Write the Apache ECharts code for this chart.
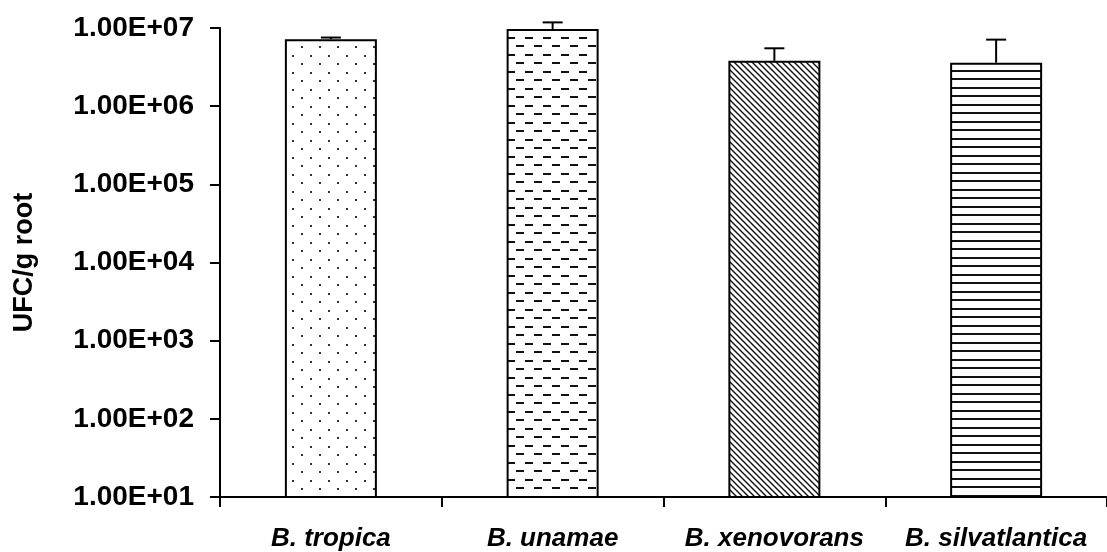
<!DOCTYPE html>
<html>
<head>
<meta charset="utf-8">
<script src="https://cdn.jsdelivr.net/npm/echarts@6/dist/echarts.min.js"></script>
<style>
html,body{margin:0;padding:0;background:#fff;}
#chart{width:1107px;height:552px;}
</style>
</head>
<body>
<div id="chart"></div>
<script>
// ---- data ----
const categories = ['B. tropica', 'B. unamae', 'B. xenovorans', 'B. silvatlantica'];
const means = [7.2e6, 9.7e6, 3.8e6, 3.6e6];
const errors = [0.35e6, 2.1e6, 1.7e6, 3.5e6];
const yTickLabels = ['1.00E+01', '1.00E+02', '1.00E+03', '1.00E+04', '1.00E+05', '1.00E+06', '1.00E+07'];
const yAxisTitle = 'UFC/g root';

// ---- patterns ----
function makeTile(w, h, draw) {
  const c = document.createElement('canvas');
  c.width = w; c.height = h;
  const ctx = c.getContext('2d');
  ctx.fillStyle = '#fff';
  ctx.fillRect(0, 0, w, h);
  draw(ctx, w, h);
  return c;
}
const dots = makeTile(18, 17, (ctx) => {
  ctx.fillStyle = '#333';
  ctx.fillRect(4, 4, 2, 2);
  ctx.fillRect(13, 12, 2, 2);
});
const dashes = makeTile(18, 17, (ctx) => {
  ctx.fillStyle = '#111';
  ctx.fillRect(3, 3, 8, 2);
  ctx.fillRect(12, 11, 6, 2);
  ctx.fillRect(0, 11, 2, 2);
});
const diag = makeTile(6, 6, (ctx) => {
  ctx.strokeStyle = '#111';
  ctx.lineWidth = 1.4;
  ctx.beginPath();
  for (let k = -1; k <= 1; k++) {
    ctx.moveTo(k * 6 - 1, -1);
    ctx.lineTo(k * 6 + 7, 7);
  }
  ctx.stroke();
});
const hlines = makeTile(10, 17, (ctx) => {
  ctx.fillStyle = '#111';
  ctx.fillRect(0, 2, 10, 2);
  ctx.fillRect(0, 10, 10, 2);
});
const patterns = [dots, dashes, diag, hlines];

const chart = echarts.init(document.getElementById('chart'), null, {renderer: 'canvas'});
const font = '"Liberation Sans", Arial, sans-serif';

chart.setOption({
  backgroundColor: '#fff',
  animation: false,
  grid: {left: 220, top: 28, bottom: 55, width: 900, containLabel: false},
  xAxis: {
    type: 'category',
    data: categories,
    z: 10,
    axisLine: {lineStyle: {color: '#000', width: 2}},
    axisTick: {show: true, interval: 0, length: 10, lineStyle: {color: '#000', width: 2}},
    axisLabel: {
      interval: 0, hideOverlap: false,
      color: '#000', fontSize: 26, fontWeight: 'bold', fontStyle: 'italic',
      fontFamily: font, margin: 29
    }
  },
  yAxis: {
    type: 'log',
    logBase: 10,
    min: 10,
    max: 1e7,
    z: 10,
    name: yAxisTitle,
    nameLocation: 'middle',
    nameRotate: 90,
    nameGap: 182,
    nameTextStyle: {color: '#000', fontSize: 27, fontWeight: 'bold', fontFamily: font},
    axisLine: {show: true, lineStyle: {color: '#000', width: 2}},
    axisTick: {show: true, length: 10, lineStyle: {color: '#000', width: 2}},
    splitLine: {show: false},
    minorTick: {show: false},
    axisLabel: {
      color: '#000', fontSize: 28, fontWeight: 'bold', fontFamily: font, margin: 26,
      formatter: (v, i) => yTickLabels[i]
    }
  },
  series: [
    {
      type: 'bar',
      barWidth: 92,
      data: means.map((v, i) => ({
        value: v,
        itemStyle: {color: {image: patterns[i], repeat: 'repeat'}}
      })),
      itemStyle: {borderColor: '#000', borderWidth: 2},
      z: 2
    },
    {
      type: 'custom',
      z: 5,
      data: means.map((v, i) => [i, v, v + errors[i]]),
      renderItem: function (params, api) {
        const base = api.coord([api.value(0), api.value(1)]);
        const top = api.coord([api.value(0), api.value(2)]);
        const half = 10;
        return {
          type: 'group',
          children: [
            {type: 'line', shape: {x1: base[0], y1: base[1], x2: top[0], y2: top[1]},
             style: {stroke: '#000', lineWidth: 2}},
            {type: 'line', shape: {x1: top[0] - half, y1: top[1], x2: top[0] + half, y2: top[1]},
             style: {stroke: '#000', lineWidth: 2}}
          ]
        };
      }
    }
  ]
});
</script>
</body>
</html>
